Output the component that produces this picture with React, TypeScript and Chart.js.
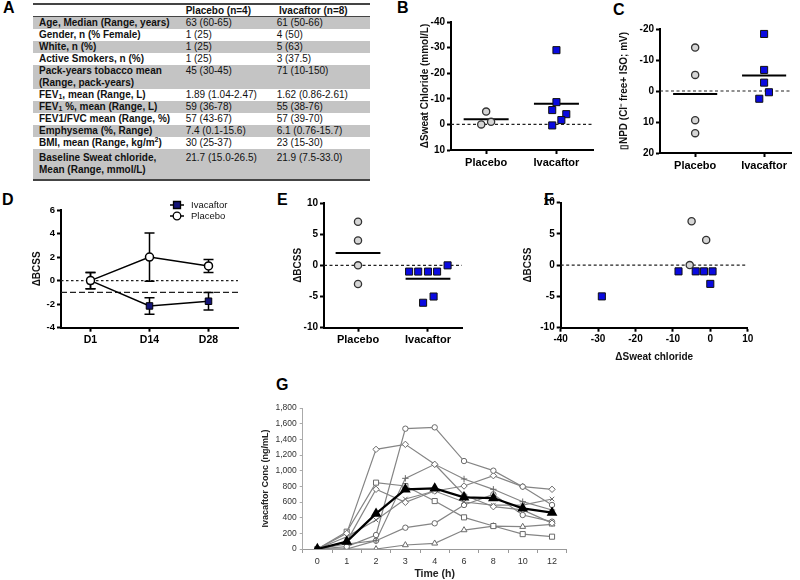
import React, { useEffect, useRef } from 'react';
import { Chart, registerables } from 'chart.js';

Chart.register(...registerables);

const FONT = 'Arial, "Liberation Sans", Helvetica, sans-serif';
Chart.defaults.font.family = FONT;

// ---------------- Panel A : table ----------------
const tableColumns = ['Placebo (n=4)', 'Ivacaftor (n=8)'];
const tableLabels = [
  'Age, Median (Range, years)',
  'Gender, n (% Female)',
  'White, n (%)',
  'Active Smokers, n (%)',
  'Pack-years tobacco mean\n(Range, pack-years)',
  'FEV_1, mean (Range, L)',
  'FEV_1 %, mean (Range, L)',
  'FEV1/FVC mean (Range, %)',
  'Emphysema (%, Range)',
  'BMI, mean (Range, kg/m^2)',
  'Baseline Sweat chloride,\nMean (Range, mmol/L)',
];
const tablePlacebo = ['63 (60-65)', '1 (25)', '1 (25)', '1 (25)', '45 (30-45)', '1.89 (1.04-2.47)', '59 (36-78)', '57 (43-67)', '7.4 (0.1-15.6)', '30 (25-37)', '21.7 (15.0-26.5)'];
const tableIvacaftor = ['61 (50-66)', '4 (50)', '5 (63)', '3 (37.5)', '71 (10-150)', '1.62 (0.86-2.61)', '55 (38-76)', '57 (39-70)', '6.1 (0.76-15.7)', '23 (15-30)', '21.9 (7.5-33.0)'];

// ---------------- shared ----------------
const groupLabels = ['Placebo', 'Ivacaftor'];

// Panel B : delta sweat chloride
const sweatPlaceboX = [0.93, 1.0, 1.07];
const sweatPlaceboY = [0, -5, -1];
const sweatIvaX = [2.0, 2.0, 1.94, 2.14, 2.07, 1.94];
const sweatIvaY = [-29, -8.7, -5.6, -4, -1.7, 0.4];

// Panel C : delta NPD
const npdPlaceboX = [1, 1, 1, 1];
const npdPlaceboY = [-14, -5.2, 9.4, 13.6];
const npdIvaX = [2, 2, 2, 2.07, 1.93];
const npdIvaY = [-18.4, -6.8, -2.7, 0.4, 2.5];

// Panel D : BCSS over visits
const visitLabels = ['D1', 'D14', 'D28'];
const bcssIvaMean = [0, -2.15, -1.75];
const bcssIvaErr = [0.7, 0.7, 0.75];
const bcssPlaMean = [0, 2.0, 1.25];
const bcssPlaErr = [0.7, 2.05, 0.55];

// Panel E : delta BCSS by group
const bcssPlaceboX = [1, 1, 1, 1];
const bcssPlaceboY = [7, 4, 0, -3];
const bcssIvaX = [1.73, 1.86, 2.0, 2.13, 2.28, 1.93, 2.08];
const bcssIvaY = [-1, -1, -1, -1, 0, -6, -5];

// Panel F : delta BCSS vs delta sweat chloride
const corrPlaceboX = [-5, -1.1, -5.5];
const corrPlaceboY = [7, 4, 0];
const corrIvaX = [-29, -8.5, -3.9, -1.7, 0.6, 0];
const corrIvaY = [-5, -1, -1, -1, -1, -3];

// Panel G : ivacaftor PK
const timeLabels = ['0', '1', '2', '3', '4', '6', '8', '10', '12'];
const pkMean = [0, 94, 451, 762, 774, 660, 650, 519, 464];
const pkS1 = [0, 30, 179, 1536, 1553, 1123, 1000, 796, 562];
const pkS2 = [0, 200, 1272, 1336, 1081, 689, 540, 500, 330];
const pkS3 = [0, 64, 106, 902, 1081, 894, 762, 604, 498];
const pkS4 = [0, 221, 847, 804, 612, 404, 293, 190, 157];
const pkS5 = [0, 94, 762, 596, 740, 804, 936, 796, 762];
const pkS6 = [0, 157, 370, 638, 740, 600, 560, 560, 638];
const pkS7 = [0, 0, 106, 272, 328, 562, 698, 434, 349];
const pkS8 = [0, 0, 0, 51, 72, 242, 293, 285, 315];

// ---------------- helpers ----------------
const mean = (a: number[]) => a.reduce((s, v) => s + v, 0) / a.length;
const zip = (xs: number[], ys: number[]) => xs.map((x, i) => ({ x, y: ys[i] }));

const refLinePlugin = {
  id: 'refLines',
  beforeDatasetsDraw(chart: any, _a: any, opts: any) {
    const lines = (opts && opts.lines) || [];
    const { ctx, chartArea, scales } = chart;
    for (const ln of lines) {
      const y = scales.y.getPixelForValue(ln.value);
      ctx.save();
      ctx.setLineDash(ln.dash);
      ctx.strokeStyle = ln.color || '#222';
      ctx.lineWidth = ln.width || 1.2;
      ctx.beginPath();
      ctx.moveTo(chartArea.left, y);
      ctx.lineTo(chartArea.right, y);
      ctx.stroke();
      ctx.restore();
    }
  },
};

const errorBarPlugin = {
  id: 'errorBars',
  beforeDatasetsDraw(chart: any) {
    const { ctx, scales } = chart;
    chart.data.datasets.forEach((ds: any, di: number) => {
      if (!ds.errors) return;
      const meta = chart.getDatasetMeta(di);
      meta.data.forEach((pt: any, i: number) => {
        const v = ds.data[i];
        const e = ds.errors[i];
        const y1 = scales.y.getPixelForValue(v + e);
        const y2 = scales.y.getPixelForValue(v - e);
        ctx.save();
        ctx.strokeStyle = '#000';
        ctx.lineWidth = 1.5;
        ctx.beginPath();
        ctx.moveTo(pt.x, y1); ctx.lineTo(pt.x, y2);
        ctx.moveTo(pt.x - 5, y1); ctx.lineTo(pt.x + 5, y1);
        ctx.moveTo(pt.x - 5, y2); ctx.lineTo(pt.x + 5, y2);
        ctx.stroke();
        ctx.restore();
      });
    });
  },
};

const legendPlugin = {
  id: 'panelLegend',
  afterDraw(chart: any, _a: any, opts: any) {
    if (!opts || !opts.items) return;
    const { ctx } = chart;
    opts.items.forEach((it: any, i: number) => {
      const x = opts.x;
      const y = opts.y + i * opts.gap;
      ctx.save();
      ctx.strokeStyle = '#000';
      ctx.lineWidth = 1.5;
      ctx.beginPath();
      ctx.moveTo(x - 7, y); ctx.lineTo(x + 7, y);
      ctx.stroke();
      ctx.fillStyle = it.fill;
      ctx.lineWidth = 1.3;
      ctx.beginPath();
      if (it.shape === 'rect') ctx.rect(x - 3.5, y - 3.5, 7, 7);
      else ctx.arc(x, y, 3.8, 0, Math.PI * 2);
      ctx.fill();
      ctx.stroke();
      ctx.fillStyle = '#111';
      ctx.font = `9.5px ${FONT}`;
      ctx.textBaseline = 'middle';
      ctx.fillText(it.text, x + 14, y + 0.5);
      ctx.restore();
    });
  },
};

function prismAxis(extra: any) {
  const { ticks, grid, ...rest } = extra;
  return {
    border: { display: true, color: '#000', width: 2 },
    grid: { display: true, drawOnChartArea: false, drawTicks: true, tickLength: 4, tickWidth: 2, tickColor: '#000', color: '#000', ...(grid || {}) },
    ticks: { color: '#000', font: { family: FONT, size: 10, weight: 'bold' }, padding: 2, maxRotation: 0, autoSkip: false, ...(ticks || {}) },
    ...rest,
  };
}

function axisTitle(text: string, size = 10) {
  return { display: true, text, color: '#111', font: { family: FONT, size, weight: 'bold' }, padding: 0 };
}

const placeboStyle = { pointStyle: 'circle', pointRadius: 3.6, pointBackgroundColor: '#d6d6d6', pointBorderColor: '#333', pointBorderWidth: 1.3, showLine: false };
const ivaStyle = { pointStyle: 'rect', pointRadius: 5, pointBackgroundColor: '#0a0ae0', pointBorderColor: '#111', pointBorderWidth: 1, showLine: false };

function meanLine(center: number, m: number) {
  const h = 0.32;
  return { data: [{ x: center - h, y: m }, { x: center + h, y: m }], showLine: true, borderColor: '#000', borderWidth: 2, pointRadius: 0 };
}

const noPlugins = { legend: { display: false }, tooltip: { enabled: false } };

function groupScatter(p: any) {
  return {
    type: 'scatter',
    data: {
      datasets: [
        { data: zip(p.plaX, p.plaY), ...placeboStyle },
        { data: zip(p.ivaX, p.ivaY), ...ivaStyle },
        meanLine(1, mean(p.plaY)),
        meanLine(2, mean(p.ivaY)),
      ],
    },
    options: {
      plugins: { ...noPlugins, refLines: { lines: [{ value: 0, dash: [3, 2.5] }] } },
      scales: {
        x: prismAxis({
          type: 'linear', min: p.xMin, max: p.xMax,
          afterBuildTicks: (s: any) => { s.ticks = [{ value: 1 }, { value: 2 }]; },
          ticks: { font: { family: FONT, size: 11, weight: 'bold' }, callback: (v: number) => groupLabels[Math.round(v) - 1] },
        }),
        y: prismAxis({
          type: 'linear', min: p.yMin, max: p.yMax, reverse: !!p.reverse,
          ticks: { stepSize: p.step },
          title: axisTitle(p.title),
        }),
      },
    },
    plugins: [refLinePlugin],
  };
}

type Box = { left: number; top: number; right: number; bottom: number };
type Area = { l: number; t: number; r: number; b: number };

function Panel({ box, area, make }: { box: Box; area: Area; make: () => any }) {
  const ref = useRef<HTMLCanvasElement | null>(null);
  useEffect(() => {
    const cfg = make();
    const o = cfg.options;
    o.responsive = false;
    o.maintainAspectRatio = false;
    o.animation = false;
    o.layout = { padding: { left: 0, top: area.t - box.top, right: box.right - area.r, bottom: 0 } };
    o.scales.x.afterFit = (s: any) => { s.height = box.bottom - area.b; };
    o.scales.y.afterFit = (s: any) => { s.width = area.l - box.left; };
    const chart = new Chart(ref.current as HTMLCanvasElement, cfg);
    return () => chart.destroy();
  }, []);
  const w = box.right - box.left;
  const h = box.bottom - box.top;
  return (
    <canvas ref={ref} width={w} height={h}
      style={{ position: 'absolute', left: box.left, top: box.top, width: w, height: h, display: 'block' }} />
  );
}

function rich(s: string) {
  const parts = s.split(/(_\d|\^\d)/);
  return parts.map((p, i) => {
    if (/^_\d$/.test(p)) return <sub key={i} style={{ fontSize: 7, lineHeight: 0, verticalAlign: '-1px' }}>{p.slice(1)}</sub>;
    if (/^\^\d$/.test(p)) return <sup key={i} style={{ fontSize: 7, lineHeight: 0, verticalAlign: '4px' }}>{p.slice(1)}</sup>;
    return <React.Fragment key={i}>{p}</React.Fragment>;
  });
}

function Table() {
  const rowHeights = tableLabels.map((l, i) => (i === tableLabels.length - 1 ? 30 : l.includes('\n') ? 24 : 12));
  const cell = (left: number, bold: boolean): React.CSSProperties => ({
    position: 'absolute', left, top: 0, whiteSpace: 'pre', fontWeight: bold ? 'bold' : 'normal',
  });
  return (
    <div style={{ position: 'absolute', left: 33, top: 3, width: 337, fontFamily: FONT, fontSize: 10, lineHeight: '12px', color: '#111' }}>
      <div style={{ height: 1.5, background: '#444' }} />
      <div style={{ position: 'relative', height: 11.5, lineHeight: '11.5px', fontWeight: 'bold' }}>
        <span style={cell(152.7, true)}>{tableColumns[0]}</span>
        <span style={cell(246, true)}>{tableColumns[1]}</span>
      </div>
      <div style={{ height: 1, background: '#444' }} />
      {tableLabels.map((label, i) => (
        <div key={i} style={{ position: 'relative', height: rowHeights[i], background: i % 2 === 0 ? '#c4c4c4' : '#fff' }}>
          <div style={{ position: 'absolute', left: 0, right: 0, top: i === tableLabels.length - 1 ? 3 : 0 }}>
            <span style={cell(6, true)}>{rich(label)}</span>
            <span style={cell(152.7, false)}>{tablePlacebo[i]}</span>
            <span style={cell(243.7, false)}>{tableIvacaftor[i]}</span>
          </div>
        </div>
      ))}
      <div style={{ height: 2, background: '#444' }} />
    </div>
  );
}

const letterStyle = (left: number, top: number): React.CSSProperties => ({
  position: 'absolute', left, top, fontFamily: FONT, fontWeight: 'bold', fontSize: 16, lineHeight: '16px', color: '#000',
});

export default function App() {
  const makeB = () => groupScatter({
    plaX: sweatPlaceboX, plaY: sweatPlaceboY, ivaX: sweatIvaX, ivaY: sweatIvaY,
    xMin: 0.5, xMax: 2.52, yMin: -40, yMax: 10, step: 10, reverse: true,
    title: '\u0394Sweat Chloride (mmol/L)',
  });
  const makeC = () => groupScatter({
    plaX: npdPlaceboX, plaY: npdPlaceboY, ivaX: npdIvaX, ivaY: npdIvaY,
    xMin: 0.49, xMax: 2.39, yMin: -20, yMax: 20, step: 10, reverse: true,
    title: '\u25AFNPD (Cl\u207B free+ ISO; mV)',
  });
  const makeE = () => groupScatter({
    plaX: bcssPlaceboX, plaY: bcssPlaceboY, ivaX: bcssIvaX, ivaY: bcssIvaY,
    xMin: 0.514, xMax: 2.486, yMin: -10, yMax: 10, step: 5, reverse: false,
    title: '\u0394BCSS',
  });
  const makeF = () => ({
    type: 'scatter',
    data: { datasets: [{ data: zip(corrPlaceboX, corrPlaceboY), ...placeboStyle }, { data: zip(corrIvaX, corrIvaY), ...ivaStyle }] },
    options: {
      plugins: { ...noPlugins, refLines: { lines: [{ value: 0, dash: [3, 2.5] }] } },
      scales: {
        x: prismAxis({ type: 'linear', min: -40, max: 10, ticks: { stepSize: 10 }, title: axisTitle('\u0394Sweat chloride') }),
        y: prismAxis({ type: 'linear', min: -10, max: 10, ticks: { stepSize: 5 }, title: axisTitle('\u0394BCSS') }),
      },
    },
    plugins: [refLinePlugin],
  });
  const makeD = () => ({
    type: 'line',
    data: {
      labels: visitLabels,
      datasets: [
        { label: 'Placebo', data: bcssPlaMean, errors: bcssPlaErr, borderColor: '#000', borderWidth: 1.5, pointStyle: 'circle', pointRadius: 4, pointBackgroundColor: '#fff', pointBorderColor: '#000', pointBorderWidth: 1.5 },
        { label: 'Ivacaftor', data: bcssIvaMean, errors: bcssIvaErr, borderColor: '#000', borderWidth: 1.5, pointStyle: 'rect', pointRadius: 4.6, pointBackgroundColor: '#141478', pointBorderColor: '#000', pointBorderWidth: 1 },
      ],
    },
    options: {
      plugins: {
        ...noPlugins,
        refLines: { lines: [{ value: 0, dash: [2.5, 2.5] }, { value: -1, dash: [6, 3] }] },
        panelLegend: {
          x: 146, y: 10, gap: 11,
          items: [
            { text: 'Ivacaftor', shape: 'rect', fill: '#141478' },
            { text: 'Placebo', shape: 'circle', fill: '#fff' },
          ],
        },
      },
      scales: {
        x: prismAxis({ type: 'category', offset: true, ticks: { font: { family: FONT, size: 10.5, weight: 'bold' } } }),
        y: prismAxis({ type: 'linear', min: -4, max: 6, ticks: { stepSize: 2, font: { family: FONT, size: 9.5, weight: 'bold' } }, title: axisTitle('\u0394BCSS') }),
      },
    },
    plugins: [refLinePlugin, errorBarPlugin, legendPlugin],
  });
  const makeG = () => {
    const subjects = [pkS1, pkS2, pkS3, pkS4, pkS5, pkS6, pkS7, pkS8];
    const styles = ['circle', 'rectRot', 'cross', 'rect', 'rectRot', 'crossRot', 'circle', 'triangle'];
    const radii: Record<string, number> = { circle: 2.7, rectRot: 3.2, cross: 3.2, rect: 3.6, crossRot: 3.2, triangle: 3.4 };
    return {
      type: 'line',
      data: {
        labels: timeLabels,
        datasets: [
          { data: pkMean, borderColor: '#000', borderWidth: 2.2, pointStyle: 'triangle', pointRadius: 4, pointBackgroundColor: '#000', pointBorderColor: '#000' },
          ...subjects.map((s, i) => ({
            data: s, borderColor: '#858585', borderWidth: 1.2, pointStyle: styles[i], pointRadius: radii[styles[i]],
            pointBackgroundColor: '#fff', pointBorderColor: '#6a6a6a', pointBorderWidth: 1,
          })),
        ],
      },
      options: {
        plugins: { ...noPlugins },
        scales: {
          x: {
            type: 'category', offset: true,
            grid: { display: true, offset: true, drawOnChartArea: false, tickLength: 4, color: '#999', tickColor: '#999' },
            border: { display: true, color: '#999', width: 1 },
            ticks: { font: { family: FONT, size: 9 }, color: '#333', maxRotation: 0, autoSkip: false, padding: 3 },
            title: { display: true, text: 'Time (h)', color: '#222', font: { family: FONT, size: 10.5, weight: 'bold' }, padding: 0 },
          },
          y: {
            type: 'linear', min: 0, max: 1800,
            grid: { display: true, drawOnChartArea: false, tickLength: 3, color: '#aaa', tickColor: '#aaa' },
            border: { display: true, color: '#aaa', width: 1 },
            ticks: { stepSize: 200, font: { family: FONT, size: 8.5 }, color: '#333', autoSkip: false, padding: 3 },
            title: { display: true, text: 'Ivacaftor Conc (ng/mL)', color: '#222', font: { family: FONT, size: 9, weight: 'bold' }, padding: 0 },
          },
        },
      },
    };
  };

  return (
    <div style={{ position: 'absolute', left: 0, top: 0, width: 800, height: 580, background: '#fff', overflow: 'hidden' }}>
      <div style={letterStyle(3, 0)}>A</div>
      <div style={letterStyle(397, 0)}>B</div>
      <div style={letterStyle(613, 2)}>C</div>
      <div style={letterStyle(2, 191.5)}>D</div>
      <div style={letterStyle(277, 191.5)}>E</div>
      <div style={letterStyle(544, 191.5)}>F</div>
      <div style={letterStyle(276, 376.5)}>G</div>
      <Table />
      <Panel box={{ left: 419, top: 10, right: 602, bottom: 175 }} area={{ l: 451, t: 22, r: 593, b: 150 }} make={makeB} />
      <Panel box={{ left: 618, top: 15, right: 800, bottom: 178 }} area={{ l: 660, t: 29, r: 791, b: 153 }} make={makeC} />
      <Panel box={{ left: 31, top: 195, right: 246, bottom: 348 }} area={{ l: 61, t: 210, r: 238, b: 327.7 }} make={makeD} />
      <Panel box={{ left: 292, top: 190, right: 470, bottom: 348 }} area={{ l: 324, t: 203, r: 462, b: 327.7 }} make={makeE} />
      <Panel box={{ left: 522, top: 190, right: 760, bottom: 363 }} area={{ l: 560.7, t: 202.5, r: 747.7, b: 327.7 }} make={makeF} />
      <Panel box={{ left: 260, top: 398, right: 580, bottom: 580 }} area={{ l: 302.7, t: 408, r: 566.7, b: 549 }} make={makeG} />
    </div>
  );
}
